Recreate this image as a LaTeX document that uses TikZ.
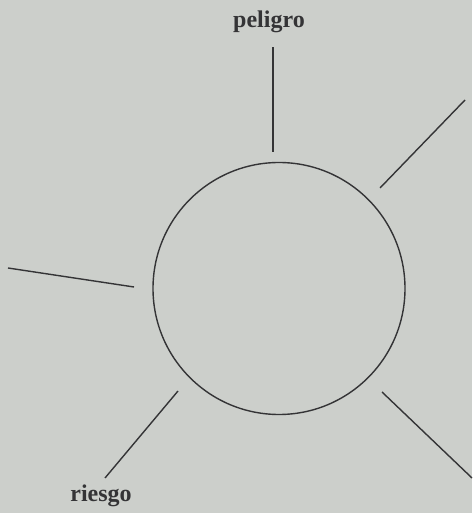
\documentclass[tikz,border=0pt]{standalone}
\usepackage{fontspec}
\setmainfont{Liberation Serif}
\usepackage{tikz}
\usetikzlibrary{positioning}
\definecolor{paper}{RGB}{204,207,203}
\definecolor{ink}{RGB}{52,52,54}

\begin{document}
\begin{tikzpicture}[x=1pt, y=1pt,
    ray/.style={ink, line width=1.4pt},
    ring/.style={draw=ink, line width=1.4pt, circle, minimum size=252pt, inner sep=0pt},
    tag/.style={ink, font=\fontsize{24}{28}\selectfont\bfseries},
  ]
    \fill[paper] (0,0) rectangle (472,513);
    \useasboundingbox (0,0) rectangle (472,513);

    \node[ring] (core) at (279,224.5) {};

    % rays
    \coordinate (topin)  at (273,361);
    \coordinate (topout) at (273,466);
    \coordinate (urin)   at (380,325);
    \coordinate (urout)  at (465,413);
    \coordinate (lin)    at (134,226);
    \coordinate (lout)   at (8,245);
    \coordinate (llin)   at (178,122);
    \coordinate (llout)  at (105,35);
    \coordinate (lrin)   at (382,121);
    \coordinate (lrout)  at (472,35);

    \draw[ray] (topin) -- (topout);
    \draw[ray] (urin)  -- (urout);
    \draw[ray] (lin)   -- (lout);
    \draw[ray] (llin)  -- (llout);
    \draw[ray] (lrin)  -- (lrout);

    \node[tag] (peligro) at (269,491) {peligro};
    \node[tag] (riesgo)  at (101,17)  {riesgo};
  \end{tikzpicture}
\end{document}
